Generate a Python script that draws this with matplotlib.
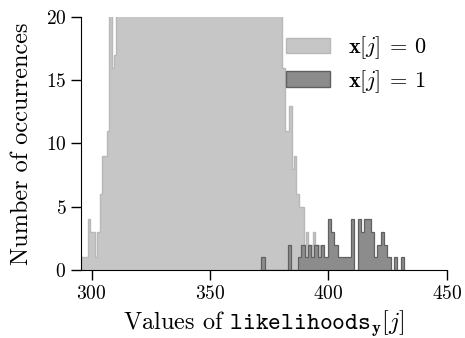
import numpy as np
import matplotlib
matplotlib.use("Agg")
import matplotlib.pyplot as plt

# ==========================
# DATA
# ==========================

# x[j] = 0 : bins of width 1 starting at 295.5 (middle part clipped at 20 in the plot)
light_start = 295.5
light_width = 1.0
light_counts = [
    1, 1, 1, 4, 3, 3, 1, 3, 6, 9, 9, 11, 22, 16, 17,
    23, 25, 24, 27, 26, 29, 28, 31, 30, 33, 32, 35, 34, 37, 36,
    38, 40, 39, 41, 42, 40, 43, 44, 42, 45, 44, 46, 43, 45, 47,
    44, 46, 45, 43, 46, 44, 45, 42, 44, 43, 41, 43, 40, 42, 39,
    41, 38, 37, 39, 36, 37, 35, 34, 36, 33, 32, 34, 31, 30, 29,
    31, 28, 27, 26, 28, 25, 24, 26, 23, 22,
    16, 11, 11, 13, 8, 9, 6, 5, 5, 2, 3, 2, 2, 3, 2, 2,
]

# x[j] = 1 : bins of width 1.4 starting at 371.7
dark_start = 371.7
dark_width = 1.4
dark_counts = [
    1, 0, 0, 0, 0, 0, 0, 0, 2, 0, 0, 1, 2, 1, 2, 1, 2, 1, 2, 1,
    4, 3, 2, 1, 1, 1, 1, 4, 0, 4, 3, 4, 4, 3, 1, 2, 3, 2, 1, 0,
    1, 0, 1,
]

labels = [r"$\mathbf{x}[j]\:=\:0$", r"$\mathbf{x}[j]\:=\:1$"]

# ==========================
# STYLE
# ==========================

plt.rcParams["font.family"] = "cmr10"
plt.rcParams["mathtext.fontset"] = "cm"
plt.rcParams["axes.formatter.use_mathtext"] = True

# ==========================
# PLOT
# ==========================

fig = plt.figure(figsize=(4.65, 3.38), dpi=100)
ax = fig.add_axes([0.174, 0.201, 0.787, 0.749])

light_edges = light_start + light_width * np.arange(len(light_counts) + 1)
dark_edges = dark_start + dark_width * np.arange(len(dark_counts) + 1)

ax.stairs(light_counts, light_edges, fill=True,
          facecolor="#c6c6c6", edgecolor="#b8b8b8", linewidth=1,
          label=labels[0])
ax.stairs(dark_counts, dark_edges, fill=True,
          facecolor="#8c8c8c", edgecolor="#606060", linewidth=0.9,
          label=labels[1])

ax.set_xlim(light_start, 450)
ax.set_ylim(0, 20)
ax.set_xticks([300, 350, 400, 450])
ax.set_yticks([0, 5, 10, 15, 20])

ax.spines["top"].set_visible(False)
ax.spines["right"].set_visible(False)
ax.tick_params(direction="out", length=7, width=1, labelsize=14)

ax.set_xlabel(r"Values of $\mathtt{likelihoods}_{\mathbf{y}}[j]$",
              fontsize=17.5, labelpad=4)
ax.set_ylabel("Number of occurrences", fontsize=17.5, labelpad=9)

leg = ax.legend(loc="upper right", frameon=False, fontsize=16,
                bbox_to_anchor=(1.0, 1.01), handlelength=2.0,
                labelspacing=0.3, handletextpad=0.8)
for h in leg.legend_handles:
    h.set_linewidth(1)

fig.savefig("out.png", dpi=100)
